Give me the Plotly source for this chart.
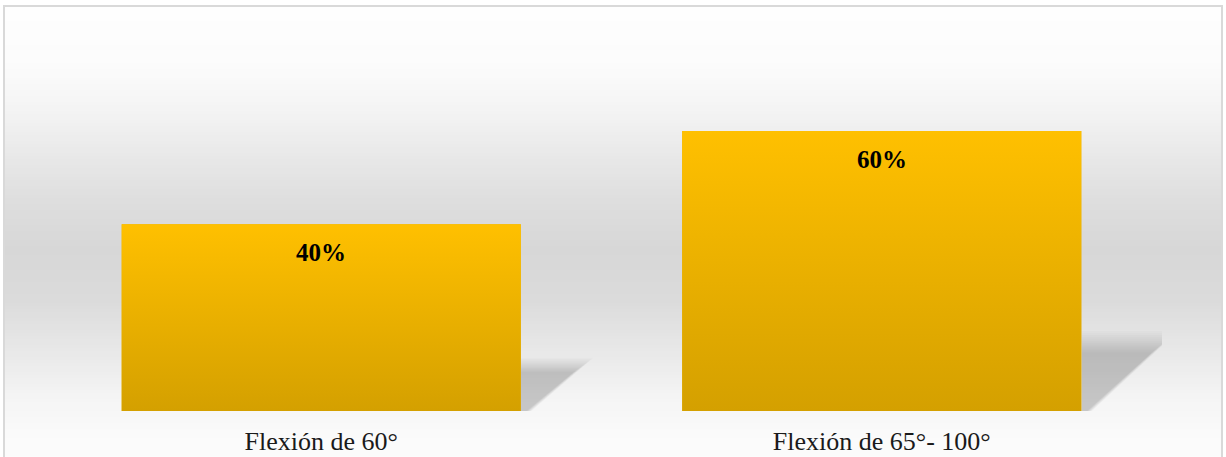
import plotly.graph_objects as go
import numpy as np

# ---- data ----
categories = ["Flexión de 60°", "Flexión de 65°- 100°"]
values = [0.40, 0.60]
labels = ["40%", "60%"]

# ---- style ----
W, H = 1226, 457
ML, MR, MT, MB = 41, 64, 61, 46
BAR_W = 0.712
X_RANGE = [-0.5, 1.5]
Y_RANGE = [0, 0.75]
FONT = "Liberation Serif, Times New Roman, serif"

plot_w = W - ML - MR
plot_h = H - MT - MB


def px_to_paper_y(py):
    return (H - MB - py) / plot_h


def px_to_paper_x(px):
    return (px - ML) / plot_w


shapes = []

# background vertical gradient (decorative)
stops_py = [6, 60, 100, 150, 200, 250, 300, 350, 400, 440, 470]
stops_g = [254, 252, 246, 234, 222, 215, 219, 232, 245, 251, 252]
edges = np.arange(6, 472, 3)
for a, b in zip(edges[:-1], edges[1:]):
    g = int(round(np.interp((a + b) / 2, stops_py, stops_g)))
    shapes.append(dict(type="rect", xref="paper", yref="paper", layer="below",
                       x0=px_to_paper_x(4), x1=px_to_paper_x(1222),
                       y0=px_to_paper_y(b + 0.5), y1=px_to_paper_y(a),
                       line=dict(width=0), fillcolor=f"rgb({g},{g},{g})"))

# soft shadows behind the bars (decorative, derived from the data)
N_LAYERS = 12
for i, v in enumerate(values):
    xr = i + BAR_W / 2
    top = v * 0.255
    dx = 0.04 + 0.19 * v
    for k in range(N_LAYERS):
        g = 1.12 - 0.3 * k / (N_LAYERS - 1)
        t = top * g
        d = dx * g
        bot = 0.01 + 0.03 * (g - 0.8)
        path = (f"M {xr},0 L {xr},{t} L {xr + d},{t} "
                f"L {xr + bot},0 Z")
        shapes.append(dict(type="path", xref="x", yref="y", layer="below",
                           path=path, fillcolor="rgba(0,0,0,0.017)",
                           line=dict(width=0)))

# outer frame
shapes.append(dict(type="rect", xref="paper", yref="paper", layer="above",
                   x0=px_to_paper_x(4), x1=px_to_paper_x(1222),
                   y0=px_to_paper_y(480), y1=px_to_paper_y(6),
                   line=dict(color="#d9d9d9", width=2), fillcolor="rgba(0,0,0,0)"))

fig = go.Figure()
fig.add_trace(go.Bar(x=list(range(len(categories))), y=values, width=BAR_W,
                     marker=dict(color="#e8b000", line=dict(width=0)),
                     hovertext=categories, showlegend=False))

# gradient overlay for each bar
for i, v in enumerate(values):
    x0, x1 = i - BAR_W / 2, i + BAR_W / 2
    fig.add_trace(go.Scatter(x=[x0, x1, x1, x0, x0], y=[0, 0, v, v, 0],
                             mode="lines", fill="toself", line=dict(width=0),
                             fillgradient=dict(type="vertical",
                                               colorscale=[[0, "#d4a000"], [1, "#ffc000"]]),
                             hoverinfo="skip", showlegend=False))

annotations = []
for i, (v, t) in enumerate(zip(values, labels)):
    annotations.append(dict(x=i, y=v, xref="x", yref="y", text=f"<b>{t}</b>",
                            showarrow=False, yanchor="top", yshift=-13,
                            font=dict(family=FONT, size=25, color="#000000")))

fig.update_layout(
    width=W, height=H,
    margin=dict(l=ML, r=MR, t=MT, b=MB, autoexpand=False),
    paper_bgcolor="white", plot_bgcolor="rgba(0,0,0,0)",
    shapes=shapes, annotations=annotations,
    xaxis=dict(range=X_RANGE, tickvals=list(range(len(categories))), ticktext=categories,
               showgrid=False, zeroline=False, showline=False, ticks="",
               ticklabelstandoff=12, automargin=False,
               tickfont=dict(family=FONT, size=26, color="#1a1a1a")),
    yaxis=dict(range=Y_RANGE, showgrid=False, zeroline=False, showline=False,
               showticklabels=False, ticks="", automargin=False),
    showlegend=False,
)

fig.write_html("out.html")
